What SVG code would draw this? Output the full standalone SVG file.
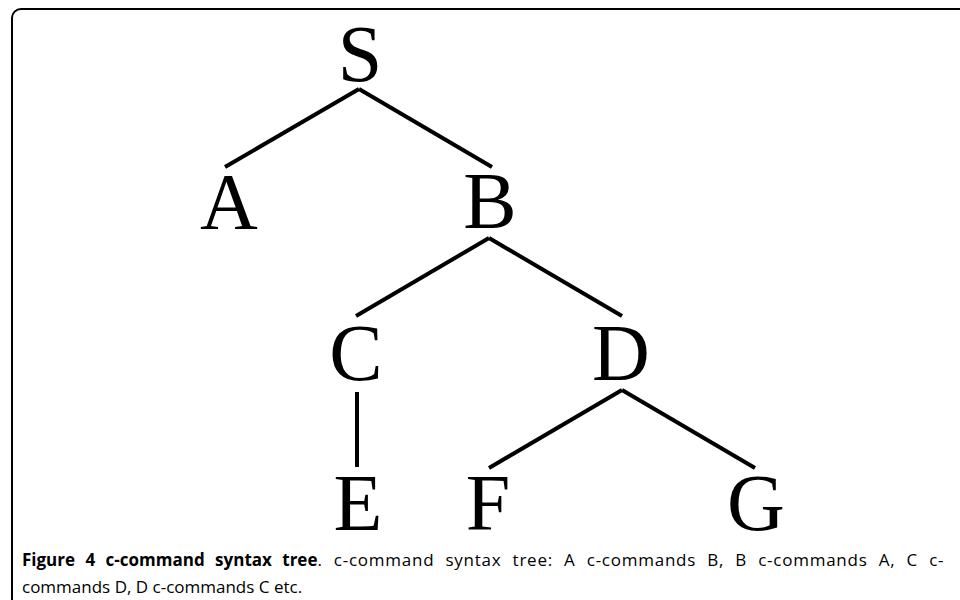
<svg xmlns="http://www.w3.org/2000/svg" width="960" height="600" viewBox="0 0 960 600">
<style>
.lbl{font-family:"Liberation Serif","Times New Roman",serif;font-size:80px;fill:#000;text-anchor:middle}
.edge{stroke:#000;stroke-width:4;fill:none}
.cap{font-family:"Open Sans","Noto Sans",sans-serif;font-size:17px;fill:#000}
</style>
<rect width="960" height="600" fill="#fff"/>
<rect x="12" y="9" width="980" height="620" rx="9" fill="none" stroke="#000" stroke-width="2"/>
<g id="connectors">
<line class="edge" x1="359" y1="89" x2="225" y2="167"/>
<line class="edge" x1="359" y1="89" x2="492" y2="167"/>
<line class="edge" x1="489" y1="238" x2="356" y2="316"/>
<line class="edge" x1="489" y1="238" x2="622" y2="316"/>
<line class="edge" x1="357" y1="392" x2="357" y2="467"/>
<line class="edge" x1="622" y1="390" x2="489" y2="468"/>
<line class="edge" x1="622" y1="390" x2="755" y2="468"/>
</g>
<g id="node-S"><text class="lbl" x="360" y="81">S</text></g>
<g id="node-A"><text class="lbl" x="229" y="229">A</text></g>
<g id="node-B"><text class="lbl" x="490" y="228">B</text></g>
<g id="node-C"><text class="lbl" x="356" y="380">C</text></g>
<g id="node-D"><text class="lbl" x="621" y="380">D</text></g>
<g id="node-E"><text class="lbl" x="358" y="530">E</text></g>
<g id="node-F"><text class="lbl" x="488" y="530">F</text></g>
<g id="node-G"><text class="lbl" x="756" y="530">G</text></g>
<g id="caption">
<text class="cap" x="22" y="566" word-spacing="6"><tspan font-weight="bold">Figure 4 c-command syntax tree</tspan><tspan letter-spacing="0.75">. c-command syntax tree: A c-commands B, B c-commands A, C c-</tspan></text>
<text class="cap" x="22" y="593">commands D, D c-commands C etc.</text>
</g>
</svg>
